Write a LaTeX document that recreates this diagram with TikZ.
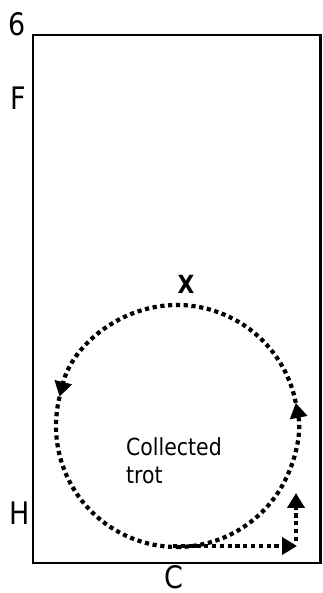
\documentclass[tikz,border=0pt]{standalone}
\usepackage{fontspec}
\setmainfont{DejaVu Sans}[FakeStretch=0.87]
\usetikzlibrary{arrows.meta,calc}
\begin{document}
\begin{tikzpicture}[x=1pt,y=1pt,
  lbl/.style={inner sep=0pt,font=\fontsize{31}{34}\selectfont},
  track/.style={line width=4.2pt,dash pattern=on 4.2pt off 3.6pt},
  tip/.style={-{Triangle[length=15pt,width=17pt]}}]
\useasboundingbox (0,0) rectangle (322,593);
\draw[line width=2.2pt] (33,558) rectangle (320.5,30);
\node[lbl] (six) at (17,569) {6};
\node[lbl] (f) at (18,495) {F};
\node[lbl] (h) at (19.5,80) {H};
\node[lbl] (c) at (174,16) {C};
\node[inner sep=0pt,font=\fontsize{25}{28}\selectfont\bfseries] (x) at (186,309) {X};
\node[inner sep=0pt,anchor=north west,align=left,font=\fontsize{23.5}{28}\selectfont] (lab) at (126,156) {Collected\\trot};
\coordinate (O) at (177,167);
\coordinate (cb) at (177,46);
\coordinate (cr) at ($(O)+(11:121)$);
\coordinate (cl) at ($(O)+(166:121)$);
\coordinate (b1) at (297,47);
\coordinate (v0) at (296,52);
\coordinate (v1) at (296,100);
\draw[track,tip] (cb) arc[start angle=270,end angle=371,radius=121pt];
\draw[track,tip] (cr) arc[start angle=11,end angle=166,radius=121pt];
\draw[track] (cl) arc[start angle=166,end angle=270,radius=121pt];
\draw[track,tip] (173,47) -- (b1);
\draw[track,tip] (v0) -- (v1);
\end{tikzpicture}
\end{document}
